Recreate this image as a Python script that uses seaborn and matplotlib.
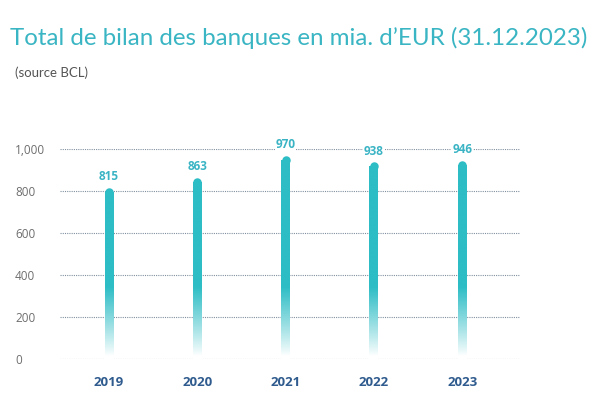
import numpy as np
import pandas as pd
import matplotlib
matplotlib.use("Agg")
import matplotlib.pyplot as plt
from matplotlib.colors import LinearSegmentedColormap
import seaborn as sns

years = ["2019", "2020", "2021", "2022", "2023"]
totals = [815, 863, 970, 938, 946]
y_ticks = [0, 200, 400, 600, 800, 1000]

teal = "#2DBDC5"
label_teal = "#3AB4C4"
year_blue = "#2F5B8E"

sns.set_theme(style="white")
plt.rcParams["font.family"] = ["Open Sans", "DejaVu Sans"]

df = pd.DataFrame({"year": years, "total": totals})

fig = plt.figure(figsize=(6, 3.95), dpi=100)
ax = fig.add_axes([0.1, 0.0911, 0.767, 0.5316])

sns.barplot(data=df, x="year", y="total", color=teal, width=0.1, ax=ax, zorder=3)

# gradient from white at the bottom to teal
cmap = LinearSegmentedColormap.from_list("fade", ["#FFFFFF", teal])
grad = np.linspace(0, 1000, 400).reshape(-1, 1)
grad = np.clip((grad - 15) / 330, 0, 1) ** 0.9

cap = 20  # rounded cap radius in data units (~4 px)
for p, v in zip(ax.patches, totals):
    x0, w = p.get_x(), p.get_width()
    p.set_height(v - cap)
    p.set_facecolor("none")
    p.set_edgecolor("none")
    img = ax.imshow(grad, extent=(x0, x0 + w, 0, 1000), origin="lower",
                    cmap=cmap, vmin=0, vmax=1, aspect="auto", zorder=3)
    img.set_clip_path(p)
    ax.scatter([x0 + w / 2], [v - cap], s=37, color=teal, zorder=4, linewidths=0)
    ax.text(x0 + w / 2, v + 52, f"{v}", ha="center", va="center", color=label_teal,
            fontsize=8.5, fontweight="bold", zorder=5,
            bbox=dict(facecolor="white", edgecolor="none", pad=0.5))

ax.set_xlim(-0.555, 4.657)
ax.set_ylim(0, 1000)
ax.set_yticks(y_ticks)
ax.set_yticklabels([f"{t:,}" for t in y_ticks], color="#6E6E6E", fontsize=8.5, ha="left")
ax.tick_params(axis="y", pad=32.4, length=0)
ax.tick_params(axis="x", pad=12, length=0)
ax.set_xticks(range(len(years)))
ax.set_xticklabels(years, color=year_blue, fontsize=9.5, fontweight="bold")
ax.set_xlabel("")
ax.set_ylabel("")
for t in y_ticks:
    ax.axhline(t, color="#8090A0", linestyle=(0, (1, 1)), linewidth=0.8, zorder=1)
sns.despine(ax=ax, left=True, bottom=True)

fig.text(0.017, 0.905, "Total de bilan des banques en mia. d\u2019EUR (31.12.2023)",
         color="#3AB5C3", fontsize=17.4, va="center", ha="left", family=["Lato", "DejaVu Sans"])
fig.text(0.025, 0.815, "(source BCL)", color="#555555", fontsize=9.5, va="center", ha="left",
         family=["Lato", "DejaVu Sans"])

fig.savefig("out.png", dpi=100)
